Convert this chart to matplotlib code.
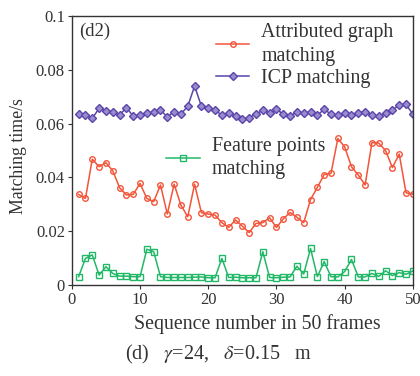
import numpy as np
import matplotlib
matplotlib.use('Agg')
import matplotlib.pyplot as plt

# Dados (tempo de matching em segundos)
frames = list(range(1, 51))

attributed = [0.0337, 0.0322, 0.0468, 0.0440, 0.0455, 0.0425, 0.0362, 0.0335, 0.0337, 0.0378,
              0.0322, 0.0310, 0.0372, 0.0264, 0.0375, 0.0297, 0.0254, 0.0375, 0.0269, 0.0264,
              0.0260, 0.0232, 0.0214, 0.0242, 0.0219, 0.0195, 0.0229, 0.0232, 0.0250, 0.0214,
              0.0246, 0.0270, 0.0252, 0.0232, 0.0318, 0.0363, 0.0411, 0.0415, 0.0545, 0.0514,
              0.0440, 0.0409, 0.0372, 0.0530, 0.0528, 0.0500, 0.0437, 0.0487, 0.0343, 0.0338]

icp = [0.0636, 0.0632, 0.0620, 0.0657, 0.0648, 0.0644, 0.0632, 0.0660, 0.0628, 0.0634,
       0.0638, 0.0644, 0.0650, 0.0626, 0.0644, 0.0636, 0.0665, 0.0740, 0.0665, 0.0660,
       0.0650, 0.0632, 0.0638, 0.0628, 0.0616, 0.0623, 0.0636, 0.0650, 0.0640, 0.0653,
       0.0636, 0.0628, 0.0644, 0.0638, 0.0644, 0.0632, 0.0653, 0.0636, 0.0632, 0.0638,
       0.0632, 0.0640, 0.0644, 0.0632, 0.0628, 0.0638, 0.0650, 0.0670, 0.0672, 0.0635]

feature = [0.0031, 0.0099, 0.0112, 0.0037, 0.0068, 0.0043, 0.0033, 0.0033, 0.0031, 0.0031,
           0.0133, 0.0124, 0.0031, 0.0028, 0.0028, 0.0028, 0.0028, 0.0029, 0.0030, 0.0027,
           0.0027, 0.0099, 0.0028, 0.0029, 0.0027, 0.0027, 0.0027, 0.0124, 0.0028, 0.0027,
           0.0029, 0.0030, 0.0070, 0.0041, 0.0136, 0.0031, 0.0087, 0.0031, 0.0030, 0.0050,
           0.0095, 0.0030, 0.0030, 0.0043, 0.0032, 0.0053, 0.0035, 0.0046, 0.0040, 0.0052]

xticks = [0, 10, 20, 30, 40, 50]
yticks = [0, 0.02, 0.04, 0.06, 0.08, 0.1]
ytick_labels = ['0', '0.02', '0.04', '0.06', '0.08', '0.1']

plt.rcParams['font.family'] = ['Liberation Serif', 'DejaVu Serif']
plt.rcParams['mathtext.fontset'] = 'stix'

fig = plt.figure(figsize=(4.2, 3.76), dpi=100)
ax = fig.add_axes([0.171, 0.242, 0.812, 0.715])

cor_red = '#f2553a'
cor_pur = '#5a45a8'
cor_grn = '#22b868'
cor_txt = '#333333'

l1, = ax.plot(frames, attributed, color=cor_red, lw=1.1, marker='o', ms=4,
              mfc='none', mec=cor_red, mew=1.0)
l2, = ax.plot(frames, icp, color=cor_pur, lw=1.1, marker='D', ms=3.8,
              mfc='#9a8ad0', mec=cor_pur, mew=1.0)
l3, = ax.plot(frames, feature, color=cor_grn, lw=1.1, marker='s', ms=3.8,
              mfc='none', mec=cor_grn, mew=1.0)

ax.set_xlim(0, 50)
ax.set_ylim(0, 0.1)
ax.set_xticks(xticks)
ax.set_yticks(yticks)
ax.set_yticklabels(ytick_labels)
ax.tick_params(labelsize=12, length=3, width=0.8, colors=cor_txt, pad=2)
for s in ax.spines.values():
    s.set_linewidth(1.0)
    s.set_color(cor_txt)

ax.set_xlabel('Sequence number in 50 frames', fontsize=14.3, color=cor_txt)
ax.xaxis.set_label_coords(0.545, -0.11)
ax.set_ylabel('Matching time/s', fontsize=12.8, color=cor_txt)
ax.yaxis.set_label_coords(-0.13, 0.48)

ax.text(0.02, 0.975, '(d2)', transform=ax.transAxes, fontsize=13.5, va='top', color=cor_txt)

# duas legendas separadas como na figura original
leg1 = ax.legend([l1, l2], ['Attributed graph\nmatching', 'ICP matching'],
                 loc='upper right', bbox_to_anchor=(0.99, 1.035), frameon=False,
                 fontsize=14.3, handlelength=1.7, handletextpad=0.6, labelspacing=0.15,
                 labelcolor=cor_txt, borderpad=0.3)
for t in leg1.get_texts():
    t.set_linespacing(1.35)
ax.add_artist(leg1)
leg2 = ax.legend([l3], ['Feature points\nmatching'], loc='upper left',
                 bbox_to_anchor=(0.23, 0.61), frameon=False, fontsize=14.3,
                 handlelength=1.7, handletextpad=0.6, labelcolor=cor_txt, borderpad=0.3)
for t in leg2.get_texts():
    t.set_linespacing(1.3)

fig.text(0.52, 0.045, r'(d)   $\it{\gamma}$=24,   $\it{\delta}$=0.15   m', ha='center',
         fontsize=14.5, color=cor_txt)

fig.savefig('out.png', dpi=100)
